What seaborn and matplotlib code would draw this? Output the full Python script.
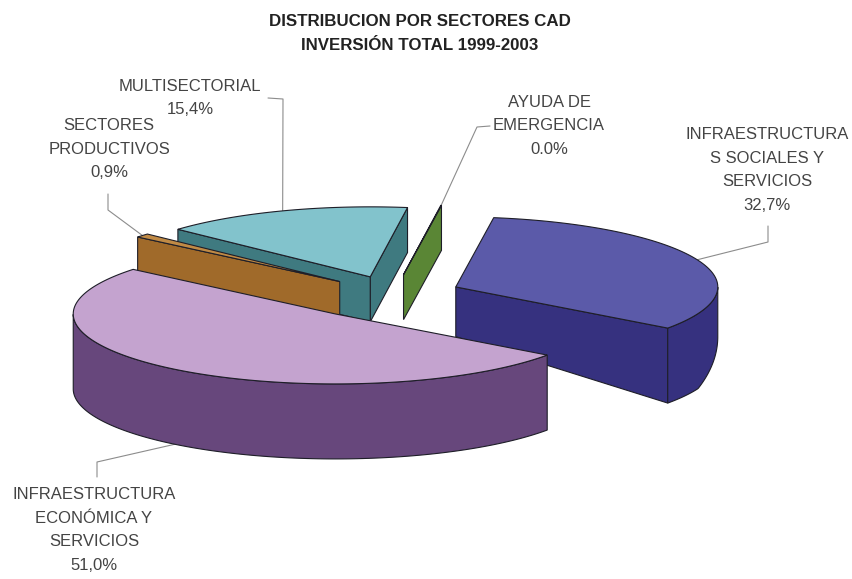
import numpy as np
import pandas as pd
import seaborn as sns
import matplotlib.pyplot as plt
from matplotlib.patches import Polygon

# Data (percent of total investment 1999-2003 by CAD sector)
sectores = ["INFRAESTRUCTURA\nS SOCIALES Y\nSERVICIOS",
            "AYUDA DE\nEMERGENCIA",
            "MULTISECTORIAL",
            "SECTORES\nPRODUCTIVOS",
            "INFRAESTRUCTURA\nECONÓMICA Y\nSERVICIOS"]
porcentajes = [32.7, 0.04, 15.4, 0.9, 51.0]
etiquetas_pct = ["32,7%", "0.0%", "15,4%", "0,9%", "51,0%"]

# Styles
color_top = ["#5b5aa9", "#6f9a45", "#82c3cc", "#c08a45", "#c4a3cf"]
color_side = ["#36317f", "#5a8635", "#3f7a80", "#a06a2a", "#67477c"]
explode = [0.26, 0.28, 0.26, 0.27, 0.36]

# Label layout (pixel space): text centre, leader start, leader elbow
label_xy = [(767, 170), (549, 126), (190, 98), (109, 149), (94, 530)]
leader_start = [(768, 226), (490, 126), (268, 98), (108, 194), (97, 477)]
leader_elbow = [(768, 242), (477, 127), (283, 99), (108, 210), (97, 462)]

W, H = 852, 579
CX, CY, RX, RY = 393, 294, 262, 70
START = -36.0

df = pd.DataFrame({"sector": sectores, "valor": porcentajes, "pct": etiquetas_pct})
df["ang"] = df["valor"] / df["valor"].sum() * 360.0
df["t1"] = START + df["ang"].cumsum()
df["t0"] = df["t1"] - df["ang"]
df["mid"] = (df["t0"] + df["t1"]) / 2


def depth(y):
    return np.clip(45 + 0.95 * (np.asarray(y) - 282), 45, 75)


def to_screen(mx, my):
    return CX + RX * np.asarray(mx), CY - RY * np.asarray(my)


sns.set_style("white")
plt.rcParams["font.family"] = ["Liberation Sans", "DejaVu Sans"]

fig = plt.figure(figsize=(W / 100, H / 100), dpi=100)
ax = fig.add_axes([0, 0, 1, 1])
ax.set_xlim(0, W)
ax.set_ylim(H, 0)
ax.axis("off")

edge = "#1e1e28"
z = 1
order = df.assign(s=np.sin(np.radians(df["mid"]))).sort_values("s", ascending=False).index
for i in order:
    r = df.loc[i]
    mid = np.radians(r["mid"])
    ox, oy = explode[i] * np.cos(mid), explode[i] * np.sin(mid)
    vx, vy = to_screen(ox, oy)
    ts = np.radians(np.linspace(r["t0"], r["t1"], 300))
    rx, ry = to_screen(ox + np.cos(ts), oy + np.sin(ts))

    # cut faces facing the viewer
    faces = []
    if np.cos(ts[0]) > 0:
        faces.append(0)
    if np.cos(ts[-1]) < 0:
        faces.append(-1)
    for k in faces:
        px, py = rx[k], ry[k]
        quad = [(vx, vy), (px, py), (px, py + depth(py)), (vx, vy + depth(vy))]
        ax.add_patch(Polygon(quad, closed=True, fc=color_side[i], ec=edge, lw=0.8, zorder=z))
        z += 1

    # outer wall (front half only)
    vis = np.sin(ts) <= 0
    if vis.sum() > 1:
        wx, wy = rx[vis], ry[vis]
        pts = list(zip(wx, wy)) + list(zip(wx[::-1], (wy + depth(wy))[::-1]))
        ax.add_patch(Polygon(pts, closed=True, fc=color_side[i], ec=edge, lw=0.8, zorder=z))
        z += 1

    # top
    pts = [(vx, vy)] + list(zip(rx, ry))
    ax.add_patch(Polygon(pts, closed=True, fc=color_top[i], ec=edge, lw=0.8, zorder=z))
    z += 1

# labels and leader lines
for i, r in df.iterrows():
    mid = np.radians(r["mid"])
    ex, ey = to_screen(explode[i] * np.cos(mid) + np.cos(mid),
                       explode[i] * np.sin(mid) + np.sin(mid))
    if np.sin(mid) < 0:
        ey = ey + depth(ey)
    sx, sy = leader_start[i]
    bx, by = leader_elbow[i]
    ax.plot([sx, bx, ex], [sy, by, ey], color="#8c8c8c", lw=0.8, zorder=0)
    tx, ty = label_xy[i]
    ax.text(tx, ty, r["sector"] + "\n" + r["pct"], ha="center", va="center",
            multialignment="center", fontsize=12, color="#444444", linespacing=1.72)

ax.text(420, 22, "DISTRIBUCION POR SECTORES CAD", ha="center", va="center",
        fontsize=12.2, fontweight="bold", color="#222222")
ax.text(420, 46, "INVERSIÓN TOTAL 1999-2003", ha="center", va="center",
        fontsize=12.2, fontweight="bold", color="#222222")

fig.savefig("out.png", dpi=100, facecolor="white")
